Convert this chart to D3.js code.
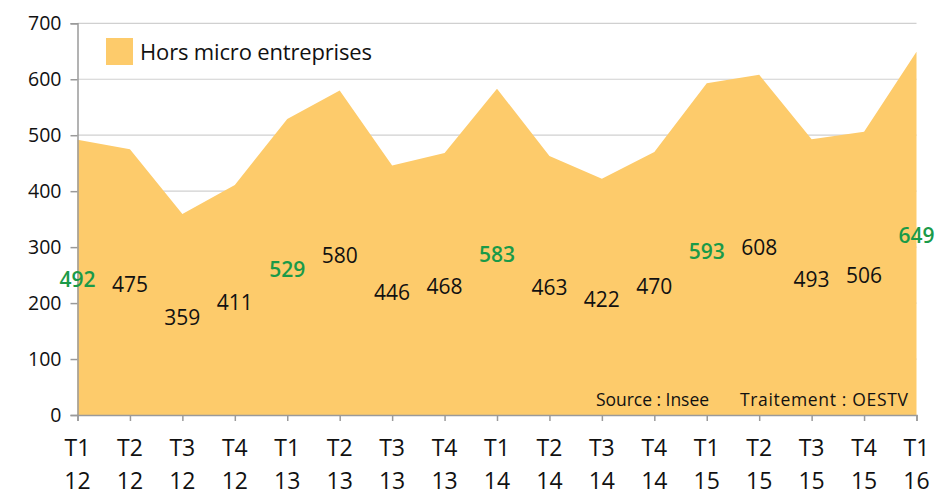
<!DOCTYPE html>
<html>
<head>
<meta charset="utf-8">
<script src="https://cdn.jsdelivr.net/npm/d3@7"></script>
<style>
  body { margin: 0; background: #fff; }
  text { font-family: "Open Sans", "Noto Sans", sans-serif; }
</style>
</head>
<body>
<div id="chart"></div>
<script>
const WIDTH = 939;
const HEIGHT = 498;

// donnees
const trimestres = ["T1", "T2", "T3", "T4", "T1", "T2", "T3", "T4", "T1", "T2", "T3", "T4", "T1", "T2", "T3", "T4", "T1"];
const annees = ["12", "12", "12", "12", "13", "13", "13", "13", "14", "14", "14", "14", "15", "15", "15", "15", "16"];
const valeurs = [492, 475, 359, 411, 529, 580, 446, 468, 583, 463, 422, 470, 593, 608, 493, 506, 649];
const yTicks = [0, 100, 200, 300, 400, 500, 600, 700];
const serieNom = "Hors micro entreprises";

const data = valeurs.map((v, i) => ({ i: i, t: trimestres[i], a: annees[i], v: v }));

const svg = d3.select("#chart")
  .append("svg")
  .attr("width", WIDTH)
  .attr("height", HEIGHT);

const x = d3.scalePoint()
  .domain(d3.range(data.length))
  .range([77.5, 916.5]);

const y = d3.scaleLinear()
  .domain([0, 700])
  .range([415, 23.3]);

// grille
svg.append("g")
  .selectAll("line")
  .data(yTicks.filter(d => d > 0))
  .join("line")
  .attr("x1", x(0))
  .attr("x2", x(data.length - 1))
  .attr("y1", d => y(d))
  .attr("y2", d => y(d))
  .attr("stroke", "#d0d0d0")
  .attr("stroke-width", 1.2);

// aire
const aire = d3.area()
  .x(d => x(d.i))
  .y0(y(0))
  .y1(d => y(d.v));

svg.append("path")
  .datum(data)
  .attr("fill", "#fdcb6b")
  .attr("d", aire);

// axe Y
const axeY = svg.append("g")
  .attr("transform", `translate(${x(0)},0)`)
  .call(d3.axisLeft(y).tickValues(yTicks).tickSize(7).tickPadding(9));
axeY.select(".domain").attr("stroke", "#9a9a9a").attr("stroke-width", 1.5);
axeY.selectAll(".tick line").attr("stroke", "#9a9a9a").attr("stroke-width", 1.5);
axeY.selectAll(".tick text")
  .attr("fill", "#111")
  .style("font-size", "19.5px")
  .style("font-family", "'Open Sans', sans-serif");

// axe X
const axeX = svg.append("g")
  .attr("transform", `translate(0,${y(0)})`)
  .call(d3.axisBottom(x).tickSize(6).tickFormat(""));
axeX.select(".domain").attr("stroke", "#9a9a9a").attr("stroke-width", 1.5);
axeX.selectAll(".tick line").attr("stroke", "#9a9a9a").attr("stroke-width", 1.5);

const etiquettesX = svg.append("g")
  .selectAll("text")
  .data(data)
  .join("text")
  .attr("text-anchor", "middle")
  .attr("fill", "#111")
  .style("font-size", "23px");
etiquettesX.append("tspan")
  .attr("x", d => x(d.i))
  .attr("y", 456)
  .text(d => d.t);
etiquettesX.append("tspan")
  .attr("x", d => x(d.i))
  .attr("y", 489)
  .text(d => d.a);

// valeurs
svg.append("g")
  .selectAll("text")
  .data(data)
  .join("text")
  .attr("x", d => x(d.i))
  .attr("y", d => y(d.v / 2) + 2)
  .attr("text-anchor", "middle")
  .attr("dominant-baseline", "central")
  .attr("fill", d => d.t === "T1" ? "#1a9a48" : "#111")
  .style("font-weight", d => d.t === "T1" ? 600 : 400)
  .style("font-size", "21px")
  .text(d => d.v);

// legende
svg.append("rect")
  .attr("x", 106)
  .attr("y", 38)
  .attr("width", 27)
  .attr("height", 27)
  .attr("fill", "#fdcb6b");
svg.append("text")
  .attr("x", 140)
  .attr("y", 60)
  .attr("fill", "#111")
  .style("font-size", "22px")
  .attr("textLength", 232)
  .text(serieNom);

// source
svg.append("text")
  .attr("x", 596)
  .attr("y", 406)
  .attr("fill", "#111")
  .style("font-size", "17.5px")
  .attr("textLength", 113)
  .text("Source : Insee");
svg.append("text")
  .attr("x", 740)
  .attr("y", 406)
  .attr("fill", "#111")
  .style("font-size", "17.5px")
  .attr("textLength", 168)
  .text("Traitement : OESTV");
</script>
</body>
</html>
